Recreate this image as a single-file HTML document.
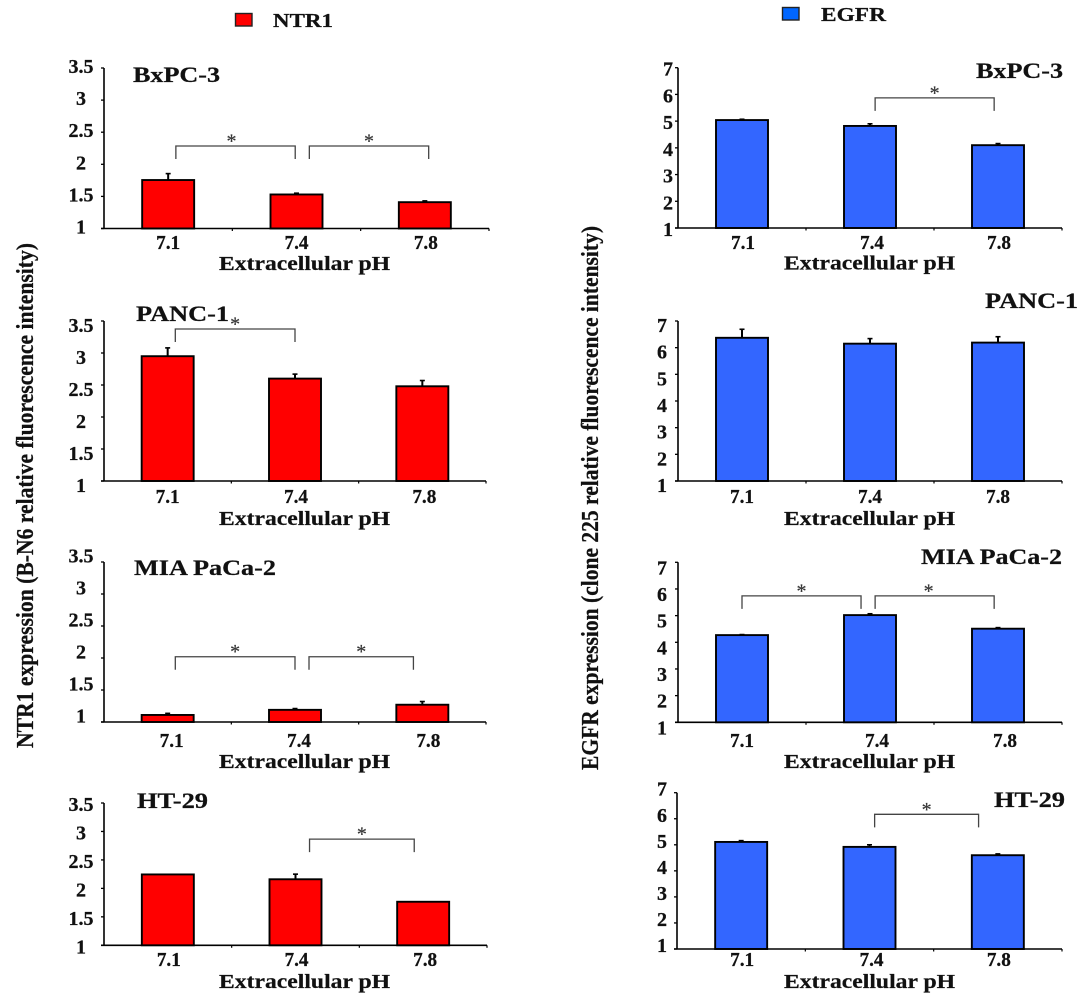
<!DOCTYPE html>
<html lang="en">
<head>
<meta charset="utf-8">
<title>NTR1 and EGFR expression versus extracellular pH</title>
<style>
  html, body { margin: 0; padding: 0; background: #fff; }
  #figure { display: block; width: 1079px; height: 1000px; filter: blur(0.35px); }
  text { font-family: "Liberation Serif", serif; font-weight: bold; fill: #111; stroke: #111; stroke-width: 0.25px; }
</style>
</head>
<body>
<svg id="figure" xmlns="http://www.w3.org/2000/svg" width="1079" height="1000" viewBox="0 0 1079 1000">
  <g>
    <rect x="235.5" y="13.5" width="16.5" height="12.5" fill="#ff0000" stroke="#222" stroke-width="1.4"/>
    <text x="273" y="27" font-size="20" textLength="60" lengthAdjust="spacingAndGlyphs">NTR1</text>
  </g>
  <g>
    <rect x="782.5" y="7.5" width="16.5" height="12.5" fill="#0066ff" stroke="#222" stroke-width="1.4"/>
    <text x="821" y="21" font-size="20" textLength="65" lengthAdjust="spacingAndGlyphs">EGFR</text>
  </g>
  <text transform="translate(33 748) rotate(-90)" font-size="24" textLength="505" lengthAdjust="spacingAndGlyphs">NTR1 expression (B-N6 relative fluorescence intensity)</text>
  <text transform="translate(598 770) rotate(-90)" font-size="24" textLength="544" lengthAdjust="spacingAndGlyphs">EGFR expression (clone 225 relative fluorescence intensity)</text>
  <g id="panels"></g>
</svg>
<script>
// Shared categories and tick labels
const categories = ['7.1', '7.4', '7.8'];
const ntr1TickLabels = ['1', '1.5', '2', '2.5', '3', '3.5'];
const egfrTickLabels = ['1', '2', '3', '4', '5', '6', '7'];

// NTR1 series: relative fluorescence and error magnitude
const ntr1BxpcValues = [1.755, 1.53, 1.41];
const ntr1BxpcErrors = [0.10, 0.02, 0.02];
const ntr1PancValues = [2.95, 2.60, 2.48];
const ntr1PancErrors = [0.13, 0.07, 0.09];
const ntr1MiaValues = [1.11, 1.19, 1.27];
const ntr1MiaErrors = [0.025, 0.02, 0.05];
const ntr1HtValues = [2.245, 2.16, 1.765];
const ntr1HtErrors = [0, 0.09, 0];

// EGFR series: relative fluorescence and error magnitude
const egfrBxpcValues = [5.04, 4.82, 4.10];
const egfrBxpcErrors = [0.03, 0.08, 0.06];
const egfrPancValues = [6.37, 6.15, 6.19];
const egfrPancErrors = [0.32, 0.19, 0.22];
const egfrMiaValues = [4.27, 5.02, 4.51];
const egfrMiaErrors = [0.02, 0.05, 0.04];
const egfrHtValues = [5.11, 4.92, 4.60];
const egfrHtErrors = [0.05, 0.08, 0.05];

// Significance brackets: from category, to category, height in axis units
const ntr1BxpcBrackets = [[0.06, 0.99, 2.285], [1.10, 2.03, 2.285]];
const ntr1PancBrackets = [[0.06, 1.0, 3.375]];
const ntr1MiaBrackets = [[0.06, 1.0, 2.02], [1.11, 1.93, 2.02]];
const ntr1HtBrackets = [[1.11, 1.93, 2.865]];
const egfrBxpcBrackets = [[1.04, 1.97, 5.87]];
const egfrPancBrackets = [];
const egfrMiaBrackets = [[0, 0.93, 5.74], [1.04, 1.97, 5.74]];
const egfrHtBrackets = [[1.04, 1.85, 6.17]];

const NTR1_RED = '#ff0000';
const EGFR_BLUE = '#3366ff';
const ntr1Axis = { min: 1, max: 3.5, labels: ntr1TickLabels, fill: NTR1_RED };
const egfrAxis = { min: 1, max: 7, labels: egfrTickLabels, fill: EGFR_BLUE };

const panels = [
  { id: 'ntr1-bxpc-3', title: 'BxPC-3', axis: ntr1Axis, values: ntr1BxpcValues, errors: ntr1BxpcErrors, brackets: ntr1BxpcBrackets, starDx: [-4, 0],
    left: 104, right: 489, top: 68, base: 228.5, labelX: 81, labelDy: 5, tx: 133, ty: 82, tw: 87, catY: 249, catDx: [0, 0, 1], xTitleX: 219, xTitleY: 270 },
  { id: 'ntr1-panc-1', title: 'PANC-1', axis: ntr1Axis, values: ntr1PancValues, errors: ntr1PancErrors, brackets: ntr1PancBrackets, starDx: [0],
    left: 104, right: 486, top: 321, base: 481, labelX: 81, labelDy: 11, tx: 136, ty: 321, tw: 93, catY: 503, catDx: [0, 1, 2], xTitleX: 219, xTitleY: 525 },
  { id: 'ntr1-mia-paca-2', title: 'MIA PaCa-2', axis: ntr1Axis, values: ntr1MiaValues, errors: ntr1MiaErrors, brackets: ntr1MiaBrackets, starDx: [0, 0],
    left: 104, right: 486, top: 562, base: 722, labelX: 81, labelDy: 0.5, tx: 134, ty: 575, tw: 142, catY: 747, catDx: [4, 4, 6], xTitleX: 219, xTitleY: 768 },
  { id: 'ntr1-ht-29', title: 'HT-29', axis: ntr1Axis, values: ntr1HtValues, errors: ntr1HtErrors, brackets: ntr1HtBrackets, starDx: [0],
    left: 104, right: 487, top: 803, base: 945.3, labelX: 81, labelDy: 8, tx: 137, ty: 808, tw: 71, catY: 966, catDx: [1, 1, 2], xTitleX: 219, xTitleY: 988 },
  { id: 'egfr-bxpc-3', title: 'BxPC-3', axis: egfrAxis, values: egfrBxpcValues, errors: egfrBxpcErrors, brackets: egfrBxpcBrackets, starDx: [0],
    left: 678, right: 1062, top: 67.7, base: 228, labelX: 668, labelDy: 8, tx: 976, ty: 78, tw: 87, catY: 249, catDx: [1, 2, 1], xTitleX: 784, xTitleY: 269.5 },
  { id: 'egfr-panc-1', title: 'PANC-1', axis: egfrAxis, values: egfrPancValues, errors: egfrPancErrors, brackets: egfrPancBrackets, starDx: [],
    left: 678, right: 1062, top: 321, base: 481, labelX: 662, labelDy: 11, tx: 985, ty: 308, tw: 93, catY: 503, catDx: [0, 0, 0], xTitleX: 784, xTitleY: 525 },
  { id: 'egfr-mia-paca-2', title: 'MIA PaCa-2', axis: egfrAxis, values: egfrMiaValues, errors: egfrMiaErrors, brackets: egfrMiaBrackets, starDx: [0, -6],
    left: 678, right: 1062, top: 562.3, base: 722.3, labelX: 662, labelDy: 12, tx: 921, ty: 564, tw: 141, catY: 747, catDx: [0, 7, 7], xTitleX: 784, xTitleY: 768 },
  { id: 'egfr-ht-29', title: 'HT-29', axis: egfrAxis, values: egfrHtValues, errors: egfrHtErrors, brackets: egfrHtBrackets, starDx: [0],
    left: 677, right: 1062, top: 792.7, base: 949, labelX: 662, labelDy: 3, tx: 994, ty: 807, tw: 71, catY: 966, catDx: [1, 2, 1], xTitleX: 784, xTitleY: 988 }
];

const SVG_NS = 'http://www.w3.org/2000/svg';
const BAR_WIDTH = 52;
const root = document.getElementById('panels');

function make(parent, tag, attrs, content) {
  const node = document.createElementNS(SVG_NS, tag);
  Object.keys(attrs).forEach(function (k) { node.setAttribute(k, attrs[k]); });
  if (content !== undefined) node.textContent = content;
  parent.appendChild(node);
  return node;
}

panels.forEach(function (p) {
  const band = (p.right - p.left) / categories.length;
  const xScale = function (c) { return p.left + (c + 0.5) * band; };
  const yScale = function (v) { return p.base - (v - p.axis.min) / (p.axis.max - p.axis.min) * (p.base - p.top); };

  const group = make(root, 'g', {});
  
  

  const title = make(group, 'text', { x: p.tx, y: p.ty, 'font-size': 22, textLength: p.tw, lengthAdjust: 'spacingAndGlyphs' }, p.title);
  
  

  // Bars and error bars
  p.values.forEach(function (value, i) {
    const cx = xScale(i);
    const err = p.errors[i];
    if (err > 0) {
      const errTop = yScale(value + err);
      const stem = make(group, 'line', { x1: cx, x2: cx, y1: yScale(value), y2: errTop, stroke: '#000', 'stroke-width': 2 });
      
      
      const cap = make(group, 'line', { x1: cx - 2.5, x2: cx + 2.5, y1: errTop, y2: errTop, stroke: '#000', 'stroke-width': 1.6 });
      
      
    }
    const bar = make(group, 'rect', {
      x: cx - BAR_WIDTH / 2, y: yScale(value), width: BAR_WIDTH, height: p.base - yScale(value),
      fill: p.axis.fill, stroke: '#000', 'stroke-width': 1.9
    });
    
    
  });

  // Y axis
  const yAxis = make(group, 'line', { x1: p.left, x2: p.left, y1: p.top, y2: p.base, stroke: '#000', 'stroke-width': 1.6 });
  
  
  p.axis.labels.forEach(function (label) {
    const y = yScale(Number(label));
    const tick = make(group, 'line', { x1: p.left - 3, x2: p.left, y1: y, y2: y, stroke: '#000', 'stroke-width': 1.3 });
    
    
    const text = make(group, 'text', { x: p.labelX, y: y + p.labelDy, 'font-size': 20, 'text-anchor': 'middle' }, label);
    
    
  });

  // X axis
  const xAxis = make(group, 'line', { x1: p.left - 3, x2: p.right, y1: p.base, y2: p.base, stroke: '#000', 'stroke-width': 1.6 });
  
  
  for (let t = 1; t <= categories.length; t++) {
    const tx = p.left + t * band;
    const xTick = make(group, 'line', { x1: tx, x2: tx, y1: p.base, y2: p.base + 2.5, stroke: '#000', 'stroke-width': 1.2 });
    
    
  }
  categories.forEach(function (cat, i) {
    const catLabel = make(group, 'text', { x: xScale(i) + p.catDx[i], y: p.catY, 'font-size': 20, 'text-anchor': 'middle', textLength: 24, lengthAdjust: 'spacingAndGlyphs' }, cat);
    
    
  });
  const xTitle = make(group, 'text', { x: p.xTitleX, y: p.xTitleY, 'font-size': 20, textLength: 171, lengthAdjust: 'spacingAndGlyphs' }, 'Extracellular pH');
  
  

  // Significance brackets
  p.brackets.forEach(function (b, i) {
    const x1 = xScale(b[0]);
    const x2 = xScale(b[1]);
    const y = yScale(b[2]);
    const bracket = make(group, 'path', { d: 'M' + x1 + ' ' + (y + 13) + 'V' + y + 'H' + x2 + 'V' + (y + 13), fill: 'none', stroke: '#444', 'stroke-width': 1.3 });
    
    
    const star = make(group, 'text', { x: (x1 + x2) / 2 + p.starDx[i], y: y + 1.5, 'font-size': 20, 'text-anchor': 'middle', style: 'font-weight:normal;fill:#333;stroke-width:0.2px;stroke:#333' }, '*');
    
    
  });
});
</script>
</body>
</html>
